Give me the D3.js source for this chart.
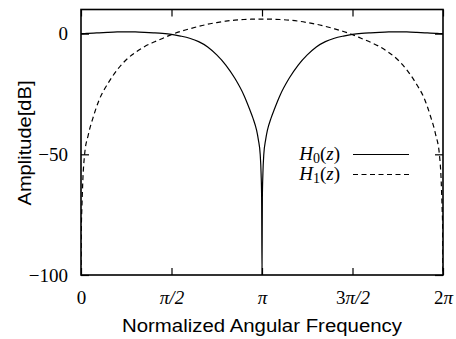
<!DOCTYPE html>
<html>
<head>
<script src="https://d3js.org/d3.v7.min.js"></script>
<style>
  body { margin: 0; background: #fff; }
  .tick text { font-family: "Liberation Serif", serif; font-size: 19px; }
  .lbl { font-family: "Liberation Sans", sans-serif; font-size: 17.5px; }
  .leg { font-family: "Liberation Serif", serif; font-size: 19px; }
</style>
</head>
<body>
<div id="chart"></div>
<script>
// frequency in units of pi
const freq = [0, 0.002, 0.005, 0.01, 0.02, 0.04, 0.07, 0.1, 0.15, 0.2, 0.25, 0.3, 0.35, 0.4, 0.45, 0.5,
  0.55, 0.6, 0.65, 0.7, 0.75, 0.8, 0.85, 0.9, 0.93, 0.95, 0.97, 0.98, 0.99, 0.995, 0.998, 1.0,
  1.002, 1.005, 1.01, 1.02, 1.03, 1.05, 1.07, 1.1, 1.15, 1.2, 1.25, 1.3, 1.35, 1.4, 1.45, 1.5,
  1.55, 1.6, 1.65, 1.7, 1.75, 1.8, 1.85, 1.9, 1.93, 1.96, 1.98, 1.99, 1.995, 1.998, 2.0]

// H0(z) amplitude, dB
const h0 = [0, 0, 0, 0, 0.05, 0.1, 0.2, 0.35, 0.55, 0.7, 0.75, 0.7, 0.55, 0.35, 0.1, -0.3,
  -1.0, -1.9, -3.3, -5.5, -8.8, -13.0, -18.5, -25.5, -31, -35, -40, -44, -50, -58, -68, -100,
  -68, -58, -50, -44, -40, -35, -31, -25.5, -18.5, -13.0, -8.8, -5.5, -3.3, -1.9, -1.0, -0.3,
  0.1, 0.35, 0.55, 0.7, 0.75, 0.7, 0.55, 0.35, 0.2, 0.1, 0.05, 0, 0, 0, 0]

// H1(z) amplitude, dB
const h1 = [-110, -80, -72, -61, -50, -42, -34, -27.5, -20.5, -15, -10.8, -7.8, -5.4, -3.6, -2.0, -0.4,
  0.9, 2.0, 3.0, 3.9, 4.6, 5.2, 5.6, 5.85, 5.95, 6.0, 6.05, 6.05, 6.05, 6.05, 6.05, 6.05,
  6.05, 6.05, 6.05, 6.05, 6.05, 6.0, 5.95, 5.85, 5.6, 5.2, 4.6, 3.9, 3.0, 2.0, 0.9, -0.4,
  -2.0, -3.6, -5.4, -7.8, -10.8, -15, -20.5, -27.5, -34, -42, -50, -61, -72, -80, -110]

const xTicks = [0, 0.5, 1, 1.5, 2]
const yTicks = [0, -50, -100]

const w = 456, h = 339
const padLeft = 81, padRight = 443, padTop = 9.5, padBottom = 275

const x = d3.scaleLinear().domain([0, 2]).range([padLeft, padRight])
const y = d3.scaleLinear().domain([-100, 10]).range([padBottom, padTop])

const svg = d3.select('#chart').append('svg').attr('width', w).attr('height', h)

svg.append('defs').append('clipPath').attr('id', 'clip')
  .append('rect').attr('x', padLeft).attr('y', padTop)
  .attr('width', padRight - padLeft).attr('height', padBottom - padTop)

function piLabel(sel, d) {
  const t = d3.select(sel)
  t.text(null)
  if (d === 0) t.append('tspan').text('0')
  else if (d === 0.5) t.append('tspan').style('font-style', 'italic').text('\u03c0/2')
  else if (d === 1) t.append('tspan').style('font-style', 'italic').text('\u03c0')
  else if (d === 1.5) { t.append('tspan').text('3'); t.append('tspan').style('font-style', 'italic').text('\u03c0/2') }
  else { t.append('tspan').text('2'); t.append('tspan').style('font-style', 'italic').text('\u03c0') }
}

// axes: ticks inside, mirrored
const gx = svg.append('g').attr('transform', 'translate(0,' + padBottom + ')')
  .call(d3.axisBottom(x).tickValues(xTicks).tickSizeInner(-7).tickSizeOuter(0).tickPadding(16))
gx.selectAll('.tick text').each(function (d) { piLabel(this, d) })
gx.select('.domain').remove()

svg.append('g').attr('transform', 'translate(0,' + padTop + ')')
  .call(d3.axisTop(x).tickValues(xTicks).tickSizeInner(-7).tickSizeOuter(0).tickFormat(''))
  .select('.domain').remove()

const gy = svg.append('g').attr('transform', 'translate(' + padLeft + ',0)')
  .call(d3.axisLeft(y).tickValues(yTicks).tickSizeInner(-8).tickSizeOuter(0).tickPadding(13)
    .tickFormat(d => d < 0 ? '\u2212' + Math.abs(d) : d))
gy.select('.domain').remove()

svg.append('g').attr('transform', 'translate(' + padRight + ',0)')
  .call(d3.axisRight(y).tickValues(yTicks).tickSizeInner(-8).tickSizeOuter(0).tickFormat(''))
  .select('.domain').remove()

svg.selectAll('.tick line').attr('stroke', '#000').attr('stroke-width', 1.2)
svg.selectAll('.tick text').attr('fill', '#000')

const line = (vals) => d3.line()
  .x((d, i) => x(freq[i]))
  .y(d => y(d))
  .curve(d3.curveMonotoneX)(vals)

const plot = svg.append('g').attr('clip-path', 'url(#clip)')
plot.append('path').attr('d', line(h0))
  .attr('fill', 'none').attr('stroke', '#000').attr('stroke-width', 1.2)
plot.append('path').attr('d', line(h1))
  .attr('fill', 'none').attr('stroke', '#000').attr('stroke-width', 1.2)
  .attr('stroke-dasharray', '5,3.5')

// frame
svg.append('rect').attr('x', padLeft).attr('y', padTop)
  .attr('width', padRight - padLeft).attr('height', padBottom - padTop)
  .attr('fill', 'none').attr('stroke', '#000').attr('stroke-width', 1.6)

// legend
const names = [['H', '0'], ['H', '1']]
const leg = svg.append('g')
names.forEach((n, i) => {
  const yy = 160 + i * 20
  const t = leg.append('text').attr('class', 'leg').attr('x', 340).attr('y', yy).attr('text-anchor', 'end')
  t.append('tspan').style('font-style', 'italic').text(n[0])
  t.append('tspan').attr('font-size', '14px').attr('dy', 3).text(n[1])
  t.append('tspan').attr('dy', -3).text('(')
  t.append('tspan').style('font-style', 'italic').text('z')
  t.append('tspan').text(')')
  leg.append('line').attr('x1', 353).attr('x2', 409).attr('y1', yy - 5.5).attr('y2', yy - 5.5)
    .attr('stroke', '#000').attr('stroke-width', 1.2)
    .attr('stroke-dasharray', i === 1 ? '5,3.5' : null)
})

svg.append('text').attr('class', 'lbl').attr('x', 262).attr('y', 332)
  .attr('text-anchor', 'middle')
  .attr('textLength', 280).attr('lengthAdjust', 'spacingAndGlyphs')
  .text('Normalized Angular Frequency')
svg.append('text').attr('class', 'lbl')
  .attr('transform', 'translate(31,143) rotate(-90)')
  .attr('text-anchor', 'middle')
  .attr('textLength', 125).attr('lengthAdjust', 'spacingAndGlyphs')
  .text('Amplitude[dB]')
</script>
</body>
</html>
